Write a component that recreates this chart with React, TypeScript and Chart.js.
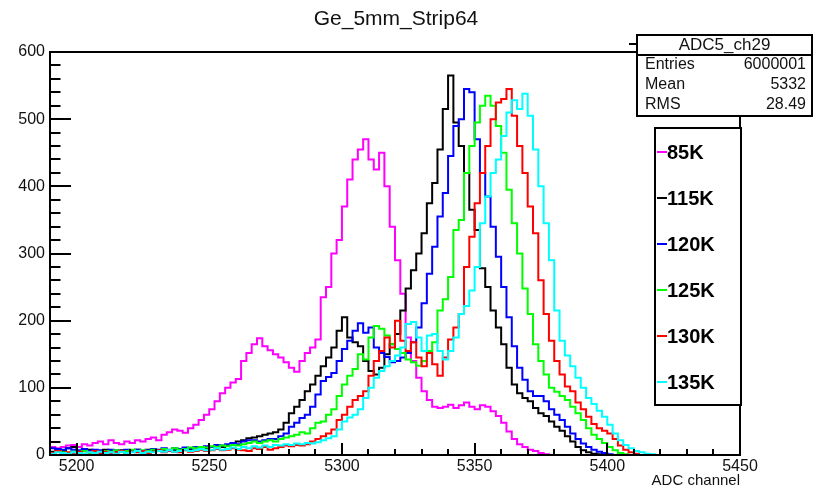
import React, { useEffect, useRef } from "react";
import { Chart, registerables } from "chart.js";

Chart.register(...registerables);

// ---------- data ----------
const TITLE = "Ge_5mm_Strip64";
const X_LABEL = "ADC channel";
const CHANNEL_START = 5190; // low edge of first bin
const BIN_WIDTH = 2; // channels per bin
const X_TICKS = [5200, 5250, 5300, 5350, 5400, 5450];
const Y_TICKS = [0, 100, 200, 300, 400, 500, 600];

const SERIES_LABELS = ["85K", "115K", "120K", "125K", "130K", "135K"];
const SERIES_COLORS = ["#ff00ff", "#000000", "#0000ff", "#00ff00", "#ff0000", "#00ffff"];

// counts per bin, bins start at 5190 and step by 2 channels (130 bins up to 5450)
const k85 = [
  15, 12, 10, 12, 14, 15, 12, 16, 14, 18,
  20, 16, 22, 18, 16, 20, 18, 22, 20, 24,
  26, 22, 30, 34, 38, 36, 33, 40, 45, 52,
  60, 68, 80, 92, 100, 108, 113, 140, 152, 165,
  174, 162, 156, 150, 145, 138, 130, 124, 140, 152,
  160, 172, 235, 250, 300, 320, 370, 410, 440, 455,
  470, 440, 425, 450, 400, 340, 290, 240, 175, 140,
  115, 95, 82, 72, 70, 72, 75, 70, 74, 78,
  72, 68, 74, 72, 65, 58, 48, 35, 24, 16,
  12, 8, 6, 3, 1, 0, 0, 0, 0, 0,
  0, 0, 0, 0, 0, 0, 0, 0, 0, 0,
  0, 0, 0, 0, 0, 0, 0, 0, 0, 0,
  0, 0, 0, 0, 0, 0, 0, 0, 0, 0,
];
const k115 = [
  6, 5, 8, 6, 10, 12, 5, 6, 8, 6,
  5, 8, 6, 5, 7, 6, 5, 8, 6, 8,
  7, 6, 8, 6, 7, 8, 10, 9, 10, 12,
  10, 12, 14, 12, 14, 16, 20, 22, 25, 26,
  28, 30, 32, 34, 38, 48, 62, 72, 82, 95,
  105, 118, 132, 145, 160, 185, 205, 175, 168, 162,
  140, 125, 120, 130, 150, 165, 180, 215, 248, 275,
  300, 330, 375, 405, 455, 515, 565, 495, 460, 420,
  365, 335, 278, 250, 215, 190, 165, 130, 105, 92,
  85, 80, 70, 62, 58, 50, 42, 36, 28, 20,
  12, 7, 4, 2, 1, 0, 0, 0, 0, 0,
  0, 0, 0, 0, 0, 0, 0, 0, 0, 0,
  0, 0, 0, 0, 0, 0, 0, 0, 0, 0,
];
const k120 = [
  8, 10, 9, 8, 10, 8, 7, 9, 6, 8,
  7, 6, 8, 7, 6, 8, 7, 8, 6, 7,
  9, 8, 10, 8, 10, 9, 11, 10, 12, 11,
  13, 12, 15, 14, 16, 18, 16, 20, 22, 22,
  20, 22, 24, 24, 28, 32, 42, 48, 55, 60,
  72, 90, 110, 116, 122, 140, 158, 170, 185, 196,
  182, 190, 160, 152, 146, 138, 140, 145, 152, 168,
  190, 226, 270, 310, 355, 390, 445, 490, 500, 545,
  540, 470, 420, 385, 340, 295, 250, 205, 162, 130,
  112, 95, 88, 88, 80, 68, 60, 52, 42, 32,
  24, 17, 12, 8, 5, 3, 1, 0, 0, 0,
  0, 0, 0, 0, 0, 0, 0, 0, 0, 0,
  0, 0, 0, 0, 0, 0, 0, 0, 0, 0,
];
const k125 = [
  4, 3, 6, 4, 3, 5, 4, 6, 3, 5,
  4, 6, 5, 7, 5, 6, 8, 5, 7, 6,
  8, 6, 9, 7, 10, 8, 9, 11, 10, 12,
  11, 13, 12, 14, 13, 15, 14, 16, 18, 20,
  18, 20, 22, 20, 24, 26, 28, 30, 34, 32,
  40, 48, 50, 60, 68, 88, 105, 118, 128, 150,
  142, 175, 192, 188, 178, 165, 158, 152, 142, 138,
  133, 140, 155, 168, 215, 232, 265, 335, 350, 420,
  460, 495, 520, 535, 520, 490, 450, 395, 345, 300,
  248, 210, 165, 140, 120, 100, 94, 88, 82, 72,
  62, 52, 40, 30, 24, 18, 12, 7, 3, 1,
  0, 0, 0, 0, 0, 0, 0, 0, 0, 0,
  0, 0, 0, 0, 0, 0, 0, 0, 0, 0,
];
const k130 = [
  5, 3, 6, 2, 4, 3, 5, 2, 4, 6,
  3, 5, 2, 4, 6, 3, 5, 4, 6, 3,
  5, 7, 4, 6, 5, 4, 7, 5, 6, 8,
  6, 7, 9, 7, 8, 10, 8, 7, 6, 10,
  9, 12, 8, 10, 12, 14, 13, 15, 14, 16,
  20, 24, 28, 32, 38, 52, 60, 72, 82, 88,
  95, 118, 140, 155, 175, 160, 200, 170, 155, 168,
  145, 132, 152, 135, 118, 145, 172, 190, 210, 280,
  325, 375, 420, 460, 500, 525, 530, 545, 505, 460,
  420, 370, 330, 260, 210, 170, 140, 120, 102, 95,
  78, 68, 57, 46, 40, 36, 32, 24, 14, 8,
  4, 2, 0, 0, 0, 0, 0, 0, 0, 0,
  0, 0, 0, 0, 0, 0, 0, 0, 0, 0,
];
const k135 = [
  3, 2, 4, 3, 2, 4, 3, 2, 4, 3,
  5, 3, 4, 2, 5, 3, 4, 6, 3, 5,
  4, 6, 5, 7, 5, 6, 8, 6, 7, 9,
  7, 8, 10, 8, 9, 11, 9, 12, 10, 13,
  11, 14, 12, 15, 14, 16, 15, 17, 16, 18,
  17, 19, 22, 25, 28, 38, 50, 56, 60, 68,
  85, 100, 115, 125, 132, 140, 148, 160, 195, 198,
  175, 155, 178, 180, 155, 142, 155, 175, 210, 222,
  245, 280, 345, 385, 420, 440, 475, 510, 528, 515,
  538, 505, 455, 400, 345, 290, 215, 170, 148, 132,
  115, 100, 85, 76, 66, 57, 45, 32, 22, 15,
  10, 6, 4, 2, 1, 0, 0, 0, 0, 0,
  0, 0, 0, 0, 0, 0, 0, 0, 0, 0,
];
const SERIES = [k85, k115, k120, k125, k130, k135];

const STATS_TITLE = "ADC5_ch29";
const STATS_NAMES = ["Entries", "Mean", "RMS"];
const STATS_VALUES = ["6000001", "5332", "28.49"];

const FONT = "'Liberation Sans', Arial, Helvetica, sans-serif";

function toSteps(values: number[]) {
  const pts = values.map((v, i) => ({ x: CHANNEL_START + i * BIN_WIDTH, y: v }));
  pts.push({ x: CHANNEL_START + values.length * BIN_WIDTH, y: values[values.length - 1] });
  return pts;
}

const decorPlugin = {
  id: "rootDecor",
  afterDatasetsDraw(chart: any) {
    const { ctx, chartArea: a, scales } = chart;
    const xs = scales.x;
    const ys = scales.y;
    ctx.save();
    ctx.strokeStyle = "#000";
    ctx.lineWidth = 2;
    ctx.lineCap = "butt";
    // inward ticks
    ctx.beginPath();
    for (let v = 0; v <= 600; v += 20) {
      const y = Math.round(ys.getPixelForValue(v));
      const len = v % 100 === 0 ? 21 : 10.5;
      ctx.moveTo(a.left, y);
      ctx.lineTo(a.left + len, y);
    }
    for (let v = 5190; v <= 5450; v += 10) {
      const x = Math.round(xs.getPixelForValue(v));
      const len = v % 50 === 0 ? 12 : 6;
      ctx.moveTo(x, a.bottom);
      ctx.lineTo(x, a.bottom - len);
    }
    ctx.stroke();
    // frame
    ctx.strokeRect(a.left, a.top, a.right - a.left, a.bottom - a.top);
    ctx.restore();
  },
  afterDraw(chart: any) {
    const { ctx } = chart;
    ctx.save();
    // title
    ctx.fillStyle = "#111";
    ctx.font = `21px ${FONT}`;
    ctx.textAlign = "center";
    ctx.textBaseline = "middle";
    ctx.fillText(TITLE, 396, 19);

    // stats box
    const sx0 = 637, sy0 = 35, sx1 = 812, sy1 = 116;
    ctx.strokeStyle = "#000";
    ctx.lineWidth = 2;
    ctx.beginPath();
    ctx.moveTo(629, 44);
    ctx.lineTo(sx0, 44);
    ctx.stroke();
    ctx.fillStyle = "#fff";
    ctx.fillRect(sx0, sy0, sx1 - sx0, sy1 - sy0);
    ctx.strokeRect(sx0, sy0, sx1 - sx0, sy1 - sy0);
    ctx.beginPath();
    ctx.moveTo(sx0, 55);
    ctx.lineTo(sx1, 55);
    ctx.stroke();
    ctx.fillStyle = "#111";
    ctx.font = `17px ${FONT}`;
    ctx.textAlign = "center";
    ctx.fillText(STATS_TITLE, (sx0 + sx1) / 2, 45);
    ctx.font = `16px ${FONT}`;
    STATS_NAMES.forEach((n, i) => {
      const y = 65 + i * 20;
      ctx.textAlign = "left";
      ctx.fillText(n, sx0 + 8, y);
      ctx.textAlign = "right";
      ctx.fillText(STATS_VALUES[i], sx1 - 6, y);
    });

    // legend box
    const lx0 = 655, ly0 = 128, lx1 = 741, ly1 = 405;
    ctx.fillStyle = "#fff";
    ctx.fillRect(lx0, ly0, lx1 - lx0, ly1 - ly0);
    ctx.strokeStyle = "#000";
    ctx.lineWidth = 2;
    ctx.strokeRect(lx0, ly0, lx1 - lx0, ly1 - ly0);
    ctx.font = `bold 20px ${FONT}`;
    ctx.textAlign = "left";
    ctx.textBaseline = "middle";
    chart.data.datasets.forEach((ds: any, i: number) => {
      const y = 152 + i * 46;
      ctx.strokeStyle = ds.borderColor;
      ctx.lineWidth = 2;
      ctx.beginPath();
      ctx.moveTo(lx0 + 2, y);
      ctx.lineTo(lx0 + 12, y);
      ctx.stroke();
      ctx.fillStyle = "#000";
      ctx.fillText(ds.label, lx0 + 12, y + 1);
    });
    ctx.restore();
  },
};

export default function App() {
  const ref = useRef<HTMLCanvasElement | null>(null);

  useEffect(() => {
    document.body.style.margin = "0";
    const canvas = ref.current;
    if (!canvas) return;
    const datasets = SERIES.map((vals, i) => ({
      label: SERIES_LABELS[i],
      data: toSteps(vals),
      borderColor: SERIES_COLORS[i],
      backgroundColor: SERIES_COLORS[i],
      borderWidth: 2,
      stepped: "after" as const,
      pointRadius: 0,
      fill: false,
      borderJoinStyle: "miter" as const,
      order: SERIES.length - 1 - i,
    }));
    const chart = new Chart(canvas, {
      type: "line",
      data: { datasets },
      options: {
        animation: false,
        responsive: false,
        devicePixelRatio: 1,
        layout: { padding: { left: 0, right: 79, top: 52, bottom: 0 } },
        plugins: {
          legend: { display: false },
          title: { display: false },
          tooltip: { enabled: false },
        },
        scales: {
          x: {
            type: "linear",
            min: 5190,
            max: 5450,
            afterFit(s: any) {
              s.height = 36;
            },
            afterBuildTicks(s: any) {
              s.ticks = X_TICKS.map((v) => ({ value: v }));
            },
            grid: { display: false, drawTicks: false },
            border: { display: false },
            ticks: {
              font: { family: FONT, size: 16 },
              color: "#111",
              padding: 2,
              maxRotation: 0,
              autoSkip: false,
              callback: (v: any) => String(v),
            },
            title: {
              display: true,
              text: X_LABEL,
              align: "end",
              color: "#111",
              font: { family: FONT, size: 15 },
              padding: { top: 0, bottom: 1 },
            },
          },
          y: {
            type: "linear",
            min: 0,
            max: 600,
            afterFit(s: any) {
              s.width = 50;
            },
            afterBuildTicks(s: any) {
              s.ticks = Y_TICKS.map((v) => ({ value: v }));
            },
            grid: { display: false, drawTicks: false },
            border: { display: false },
            ticks: {
              font: { family: FONT, size: 16 },
              color: "#111",
              padding: 5,
              autoSkip: false,
              callback: (v: any) => String(v),
            },
          },
        },
      },
      plugins: [decorPlugin],
    });
    return () => chart.destroy();
  }, []);

  return (
    <div style={{ width: 819, height: 491, background: "#fff" }}>
      <canvas ref={ref} width={819} height={491} style={{ width: 819, height: 491, display: "block" }} />
    </div>
  );
}
